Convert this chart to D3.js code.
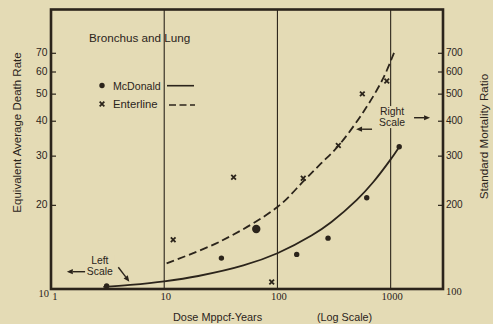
<!DOCTYPE html>
<html lang="en">
<head>
    <meta charset="UTF-8">
    <title>Bronchus and Lung</title>
    <style>
        body { margin: 0; background: #e4dbb5; }
        svg { display: block; }
    </style>
</head>
<body>
<script src="https://d3js.org/d3.v7.min.js"></script>
<script>
    // values
    const doseTicks = [1, 10, 100, 1000];
    const rateTicks = [10, 20, 30, 40, 50, 60, 70];
    const smrTicks = [100, 200, 300, 400, 500, 600, 700];

    // McDonald points (left scale) and fitted line
    const mcdDose = [3.1, 32, 65, 148, 280, 615, 1190];
    const mcdRate = [10.25, 12.9, 16.4, 13.3, 15.2, 21.2, 32.3];
    const mcdFitDose = [2.9, 5, 10, 20, 50, 100, 200, 300, 500, 700, 1000, 1190];
    const mcdFitRate = [10.17, 10.34, 10.65, 11.13, 12.14, 13.43, 15.53, 17.37, 20.78, 24.09, 29.09, 32.24];

    // Enterline points (right scale) and fitted line
    const entDose = [12, 41, 89, 169, 345, 562, 924];
    const entSmr = [150, 251, 106, 249, 326, 499, 555];
    const entFitDose = [10.5, 31.8, 100, 169, 238, 345, 574, 862, 1094];
    const entFitSmr = [123.6, 148.5, 196.5, 242.5, 279, 325, 430, 569, 716];

    const width = 493, height = 324;
    const ink = "#2b241b";
    const bg = "#e4dbb5";
    const sans = "'Liberation Sans', Arial, sans-serif";
    const serif = "'Liberation Serif', 'Times New Roman', serif";

    const svg = d3.select("body").append("svg")
        .attr("width", width)
        .attr("height", height)
        .style("background", bg);

    // Scales
    const x = d3.scaleLog().domain([1, 2900]).range([51, 443]);
    const yLeft = d3.scaleLog().domain([10, 100]).range([289, 9.5]);
    const yRight = d3.scaleLog().domain([100, 1000]).range([289, 9.5]);

    // vertical grid lines at the decades
    svg.append("g").selectAll("line")
        .data(doseTicks.slice(1))
        .enter().append("line")
        .attr("x1", d => x(d)).attr("x2", d => x(d))
        .attr("y1", yLeft(100)).attr("y2", yLeft(10))
        .attr("stroke", ink).attr("stroke-width", 1.1);

    // Frame
    svg.append("rect")
        .attr("x", x(1)).attr("y", yLeft(100))
        .attr("width", x(2900) - x(1))
        .attr("height", yLeft(10) - yLeft(100))
        .attr("fill", "none")
        .attr("stroke", ink)
        .attr("stroke-width", 2.6);

    // Left axis (ticks point inward)
    const left = svg.append("g")
        .attr("transform", "translate(" + x(1) + ",0)")
        .call(d3.axisRight(yLeft).tickValues(rateTicks.slice(1)).tickSize(5).tickFormat(""));
    left.select(".domain").remove();
    left.selectAll("line").attr("stroke", ink).attr("stroke-width", 1.2);

    svg.append("g").selectAll("text")
        .data(rateTicks.slice(1))
        .enter().append("text")
        .attr("x", x(1) - 3.5)
        .attr("y", d => yLeft(d) + 3.6)
        .attr("text-anchor", "end")
        .style("font", "10.3px " + sans)
        .attr("fill", ink)
        .text(d => d);

    // Right axis
    const right = svg.append("g")
        .attr("transform", "translate(" + x(2900) + ",0)")
        .call(d3.axisLeft(yRight).tickValues(smrTicks.slice(1)).tickSize(5).tickFormat(""));
    right.select(".domain").remove();
    right.selectAll("line").attr("stroke", ink).attr("stroke-width", 1.2);

    svg.append("g").selectAll("text")
        .data(smrTicks.slice(1))
        .enter().append("text")
        .attr("x", x(2900) + 3)
        .attr("y", d => yRight(d) + 3.6)
        .style("font", "10px " + sans)
        .attr("fill", ink)
        .text(d => d);

    // corner labels (serif in the original)
    svg.append("text")
        .attr("x", x(1) - 2).attr("y", yLeft(10) + 8)
        .attr("text-anchor", "end")
        .style("font", "10.5px " + serif).attr("fill", ink)
        .text(rateTicks[0]);
    svg.append("text")
        .attr("x", x(2900) + 3).attr("y", yRight(100) + 6)
        .style("font", "10.5px " + serif).attr("fill", ink)
        .text(smrTicks[0]);

    // Bottom axis labels
    svg.append("g").selectAll("text")
        .data(doseTicks)
        .enter().append("text")
        .attr("x", (d, i) => i === 0 ? x(d) + 4 : x(d) + 1.5)
        .attr("y", yLeft(10) + 11)
        .attr("text-anchor", "middle")
        .style("font", "10.6px " + serif)
        .attr("fill", ink)
        .text(d => d);

    svg.append("text")
        .attr("x", 173).attr("y", 320.5)
        .style("font", "10.9px " + sans).attr("fill", ink)
        .text("Dose Mppcf-Years");
    svg.append("text")
        .attr("x", 317).attr("y", 320.5)
        .style("font", "10.8px " + sans).attr("fill", ink)
        .text("(Log Scale)");

    svg.append("text")
        .attr("transform", "translate(20.5,132.5) rotate(-90)")
        .attr("text-anchor", "middle")
        .style("font", "11.5px " + sans).attr("fill", ink)
        .text("Equivalent Average Death Rate");
    svg.append("text")
        .attr("transform", "translate(488,136.5) rotate(-90)")
        .attr("text-anchor", "middle")
        .style("font", "11.7px " + sans).attr("fill", ink)
        .text("Standard Mortality Ratio");

    // Title
    svg.append("text")
        .attr("x", 89).attr("y", 41.5)
        .style("font", "11.7px " + sans).attr("fill", ink)
        .text("Bronchus and Lung");

    // Fitted lines
    const mcdFit = mcdFitDose.map((d, i) => ({dose: d, v: mcdFitRate[i]}));
    const entFit = entFitDose.map((d, i) => ({dose: d, v: entFitSmr[i]}));

    svg.append("path")
        .datum(mcdFit)
        .attr("fill", "none")
        .attr("stroke", ink)
        .attr("stroke-width", 1.8)
        .attr("d", d3.line().curve(d3.curveCatmullRom)
            .x(d => x(d.dose))
            .y(d => yLeft(d.v)));

    svg.append("path")
        .datum(entFit)
        .attr("fill", "none")
        .attr("stroke", ink)
        .attr("stroke-width", 1.8)
        .attr("stroke-dasharray", "8,4")
        .attr("d", d3.line().curve(d3.curveCatmullRom)
            .x(d => x(d.dose))
            .y(d => yRight(d.v)));

    // McDonald dots (the big one is drawn larger, as in the original)
    const bigDot = 2;
    svg.append("g").selectAll("circle")
        .data(mcdDose.map((d, i) => ({dose: d, v: mcdRate[i], i: i})))
        .enter().append("circle")
        .attr("cx", d => x(d.dose))
        .attr("cy", d => yLeft(d.v))
        .attr("r", d => d.i === bigDot ? 4.2 : 2.7)
        .attr("fill", ink);

    // Enterline crosses
    const cross = d3.symbol().type(d3.symbolX).size(16);
    svg.append("g").selectAll("path")
        .data(entDose.map((d, i) => ({dose: d, v: entSmr[i]})))
        .enter().append("path")
        .attr("transform", d => "translate(" + x(d.dose) + "," + yRight(d.v) + ")")
        .attr("d", cross)
        .attr("fill", "none")
        .attr("stroke", ink)
        .attr("stroke-width", 1.8);

    // Legend
    const legend = svg.append("g");
    legend.append("circle").attr("cx", 102).attr("cy", 85.5).attr("r", 2.7).attr("fill", ink);
    legend.append("text").attr("x", 113).attr("y", 89.5)
        .style("font", "10.6px " + sans).attr("fill", ink).text("McDonald");
    legend.append("line").attr("x1", 167).attr("x2", 194).attr("y1", 85.7).attr("y2", 85.7)
        .attr("stroke", ink).attr("stroke-width", 1.6);
    legend.append("path").attr("transform", "translate(102,104)").attr("d", cross)
        .attr("fill", "none").attr("stroke", ink).attr("stroke-width", 1.8);
    legend.append("text").attr("x", 113).attr("y", 107.5)
        .style("font", "11.3px " + sans).attr("fill", ink).text("Enterline");
    legend.append("line").attr("x1", 169).attr("x2", 195).attr("y1", 105).attr("y2", 105)
        .attr("stroke", ink).attr("stroke-width", 1.6).attr("stroke-dasharray", "7,3.5");

    // Scale annotations, placed in chart units
    function arrow(from, to, scaleY) {
        const x1 = x(from[0]), y1 = scaleY(from[1]);
        const x2 = x(to[0]), y2 = scaleY(to[1]);
        const a = Math.atan2(y2 - y1, x2 - x1);
        const len = 6, wing = 2.6;
        const bx = x2 - len * Math.cos(a), by = y2 - len * Math.sin(a);
        svg.append("line")
            .attr("x1", x1).attr("y1", y1).attr("x2", bx).attr("y2", by)
            .attr("stroke", ink).attr("stroke-width", 1.4);
        svg.append("path")
            .attr("d", "M" + x2 + "," + y2 +
                "L" + (bx + wing * Math.sin(a)) + "," + (by - wing * Math.cos(a)) +
                "L" + (bx - wing * Math.sin(a)) + "," + (by + wing * Math.cos(a)) + "Z")
            .attr("fill", ink);
    }

    function note(lines, dose, v) {
        const g = svg.append("g");
        const bgRect = g.append("rect").attr("fill", bg);
        const t = g.append("text")
            .attr("text-anchor", "middle")
            .style("font", "10.4px " + sans).attr("fill", ink);
        lines.forEach((s, i) => {
            t.append("tspan").attr("x", x(dose)).attr("y", yLeft(v) + i * 11).text(s);
        });
        const b = t.node().getBBox();
        bgRect.attr("x", b.x - 1).attr("y", b.y).attr("width", b.width + 2).attr("height", b.height);
    }

    note(["Left", "Scale"], 2.7, 12.3);
    arrow([2.0, 11.53], [1.38, 11.53], yLeft);
    arrow([3.93, 11.96], [4.92, 10.62], yLeft);

    note(["Right", "Scale"], 1030, 41.9);
    arrow([1609, 41.0], [2229, 41.0], yLeft);
    arrow([685, 37.3], [495, 37.3], yLeft);
</script>
</body>
</html>
